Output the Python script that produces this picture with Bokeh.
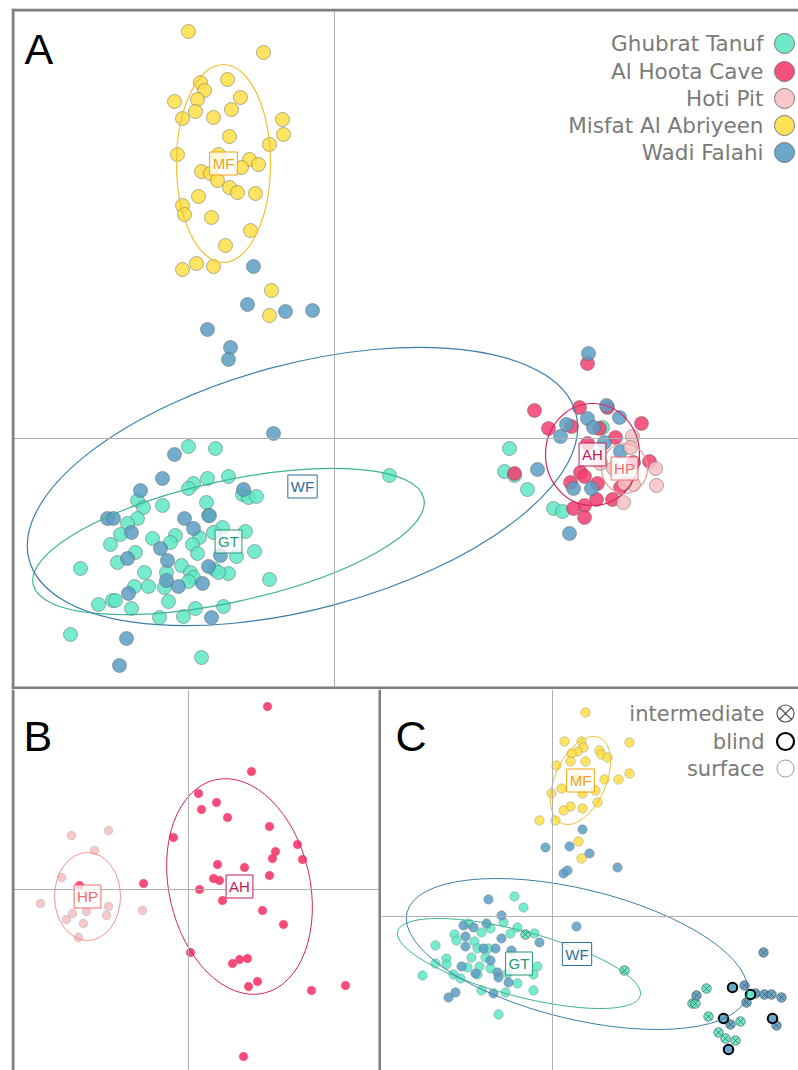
from bokeh.plotting import figure
from bokeh.models import Span, Label, Range1d
from bokeh.layouts import column, row
from bokeh.embed import file_html
from bokeh.resources import INLINE

# ---------------- data ----------------
CODES = ["GT", "AH", "HP", "MF", "WF"]
NAMES = ["Ghubrat Tanuf", "Al Hoota Cave", "Hoti Pit", "Misfat Al Abriyeen", "Wadi Falahi"]

# Panel A (all populations)
A_MF_x = [-1.46, -0.71, -1.34, -1.30, -1.07, -1.60, -1.37, -0.94, -1.39, -1.52, -1.21, -1.03, -0.52, -0.51, -1.05,
          -0.65, -1.57, -1.16, -0.85, -0.76, -0.93, -1.33, -1.24, -1.17, -1.05, -0.97, -0.79, -1.36, -1.52, -1.50,
          -1.23, -0.84, -1.09, -1.52, -1.38, -1.21, -0.63, -0.65]
A_MF_y = [4.07, 3.86, 3.56, 3.48, 3.59, 3.37, 3.39, 3.41, 3.27, 3.20, 3.21, 3.29, 3.19, 3.04, 3.02,
          2.94, 2.84, 2.84, 2.79, 2.74, 2.71, 2.67, 2.65, 2.58, 2.51, 2.46, 2.45, 2.42, 2.33, 2.24,
          2.21, 2.08, 1.93, 1.69, 1.75, 1.72, 1.48, 1.23]
A_WF_x = [-0.81, -0.87, -0.49, -0.22, -1.27, -1.04, -1.06, -0.61, -1.60, -1.72, -1.94, -0.91, -2.27, -2.21, -1.50,
          -1.25, -1.41, -2.03, -1.74, -1.67, -1.14, -2.07, -1.26, -1.68, -1.56, -1.32, -2.06, -1.23, -2.08, -2.15,
          2.54, 2.72, 2.85, 2.53, 2.32, 2.59, 2.26, 2.70, 2.86, 2.03, 2.39, 2.57, 2.35]
A_WF_y = [1.72, 1.34, 1.27, 1.28, 1.09, 0.91, 0.79, 0.05, -0.16, -0.40, -0.52, -0.51, -0.80, -0.80, -0.80,
          -0.77, -0.90, -0.94, -1.10, -1.22, -1.17, -1.20, -1.28, -1.42, -1.48, -1.45, -1.55, -1.79, -2.00, -2.27,
          0.85, 0.33, 0.21, 0.20, 0.14, 0.11, 0.02, -0.04, -0.13, -0.31, -0.50, -0.50, -0.95]
A_AH_x = [2.53, 2.00, 2.45, 2.73, 3.07, 2.14, 2.37, 2.65, 2.81, 2.53, 2.99, 3.15, 1.80, 2.46, 2.50,
          2.36, 2.63, 2.62, 2.78, 2.50, 2.39, 2.50, 2.86]
A_AH_y = [0.75, 0.28, 0.31, 0.31, 0.15, 0.10, 0.12, 0.10, 0.01, -0.05, -0.24, -0.23, -0.35, -0.34, -0.38,
          -0.44, -0.45, -0.61, -0.61, -0.67, -0.70, -0.79, -0.49]
A_HP_x = [2.98, 2.96, 3.21, 3.22, 2.89, 2.99, 2.90, 2.66, 2.79]
A_HP_y = [0.02, -0.09, -0.30, -0.47, -0.64, -0.46, -0.45, -0.25, -0.30]
A_GT_x = [-1.46, -1.19, -1.06, -1.27, -1.41, -1.46, -0.92, -0.86, -0.78, -1.97, -1.72, -1.28, -1.91, -1.97, -2.07,
          -1.26, -1.12, -0.89, -1.21, -1.35, -1.59, -1.82, -2.14, -2.24, -1.64, -1.42, -1.37, -1.99, -2.17, -2.54,
          -1.53, -0.98, -0.80, -1.44, -1.20, -1.06, -1.16, -1.90, -1.68, -1.41, -0.65, -1.46, -1.86, -2.00, -1.70,
          -1.66, -2.36, -2.22, -2.19, -2.03, -1.75, -1.51, -1.39, -1.11, -2.64, -1.33, 0.55,
          1.75, 1.70, 1.80, 1.93, 2.19, 2.28, 2.68]
A_GT_y = [-0.08, -0.10, -0.38, -0.40, -0.45, -0.50, -0.56, -0.59, -0.58, -0.62, -0.67, -0.64, -0.69, -0.80, -0.85,
          -0.77, -0.89, -0.93, -0.94, -0.99, -0.97, -1.00, -0.96, -1.06, -1.04, -1.06, -1.15, -1.14, -1.24, -1.30,
          -1.27, -1.18, -1.13, -1.34, -1.31, -1.35, -1.34, -1.34, -1.34, -1.39, -1.41, -1.43, -1.48, -1.48, -1.49,
          -1.63, -1.66, -1.62, -1.62, -1.70, -1.79, -1.78, -1.70, -1.68, -1.96, -2.19, -0.37,
          -0.10, -0.33, -0.37, -0.51, -0.70, -0.73, 0.11]

# confidence ellipses: centre x, centre y, width, height, angle (deg)
A_ELL = {
    "MF": (-1.11, 2.75, 0.94, 1.98, 0.0),
    "GT": (-1.06, -1.03, 4.00, 1.21, 12.4),
    "WF": (-0.32, -0.48, 5.66, 2.45, 15.0),
    "AH": (2.58, -0.16, 0.94, 1.02, 0.0),
    "HP": (2.90, -0.30, 0.46, 0.50, 0.0),
}

# Panel B (Al Hoota Cave vs Hoti Pit)
B_AH_x = [0.79, 0.63, 0.10, 0.28, 0.13, 0.39, 0.81, -0.15, 1.09, 0.87, 0.84, 1.14, 0.29, 0.56, 0.81, 0.25,
          0.31, -0.45, -1.09, 0.11, 0.34, 0.74, 0.95, 0.02, 0.44, 0.51, 0.59, 0.69, 0.60, 1.23, 1.57, 0.55]
B_AH_y = [1.83, 1.18, 0.96, 0.87, 0.80, 0.72, 0.63, 0.52, 0.45, 0.38, 0.31, 0.30, 0.25, 0.22, 0.14, 0.11,
          0.09, 0.06, 0.04, 0.00, -0.11, -0.21, -0.35, -0.63, -0.74, -0.70, -0.69, -0.92, -0.97, -1.01, -0.96, -1.67]
B_HP_x = [-1.17, -0.80, -0.94, -1.27, -1.48, -1.01, -1.16, -1.22, -1.02, -0.80, -0.82, -1.05, -1.10, -0.46]
B_HP_y = [0.54, 0.59, 0.39, 0.12, -0.14, -0.04, -0.24, -0.30, -0.22, -0.17, -0.26, -0.34, -0.48, -0.21]
B_ELL = {
    "AH": (0.51, 0.03, 1.41, 2.19, 12.8),
    "HP": (-1.01, -0.07, 0.66, 0.88, 0.0),
}

# Panel C (Ghubrat Tanuf, Misfat Al Abriyeen, Wadi Falahi) by eye type
C_MF_x = [0.33, 0.12, 0.29, 0.77, 0.31, 0.25, 0.19, 0.47, 0.49, 0.55, 0.18, 0.33, 0.04, 0.52, 0.66, 0.77, 0.25,
          0.09, -0.01, 0.30, 0.43, 0.45, 0.18, 0.11, 0.30, -0.13, 0.03, 0.26, 0.29]
C_MF_y = [2.04, 1.75, 1.75, 1.74, 1.69, 1.65, 1.63, 1.66, 1.62, 1.59, 1.55, 1.55, 1.51, 1.37, 1.37, 1.43, 1.39,
          1.28, 1.23, 1.23, 1.26, 1.14, 1.10, 1.06, 1.08, 0.96, 0.96, 0.75, 0.58]
C_WF_x = [0.30, -0.07, 0.17, 0.37, 0.65, 0.11, 0.15, 0.24, -0.64, -0.51, -0.66, -0.89, -0.79, -0.87, -0.51, -0.13,
          -0.87, -0.69, -0.57, -0.41, -0.91, -0.77, -0.55, -0.54, -0.44, -0.62, -0.59, -0.97, -1.04]
C_WF_y = [0.87, 0.69, 0.70, 0.63, 0.49, 0.43, 0.46, -0.10, 0.17, 0.01, -0.07, -0.09, -0.11, -0.20, -0.22, -0.26,
          -0.30, -0.32, -0.32, -0.34, -0.50, -0.57, -0.56, -0.61, -0.66, -0.44, -0.77, -0.76, -0.81]
C_GT_x = [-0.38, -0.29, -0.49, -0.84, -0.62, -0.35, -0.18, -0.98, -0.71, -0.96, -0.78, -1.17, -0.75, -0.64, -0.42,
          -1.06, -0.81, -1.17, -1.06, -0.67, -0.85, -0.73, -0.15, -0.62, -1.30, -0.99, -0.92, -0.75, -0.19, -0.45,
          -0.35, -0.71, -0.47, -0.19, -0.54]
C_GT_y = [0.20, 0.09, -0.06, -0.07, -0.12, -0.11, -0.17, -0.18, -0.16, -0.24, -0.25, -0.29, -0.32, -0.32, -0.17,
          -0.42, -0.41, -0.47, -0.48, -0.41, -0.51, -0.50, -0.50, -0.52, -0.59, -0.58, -0.62, -0.58, -0.58, -0.57,
          -0.67, -0.74, -0.76, -0.74, -0.98]
C_GT_int_x = [-0.27, 0.72, 1.54, 1.40, 1.43, 1.56, 1.88, 1.66, 1.73, 1.83]
C_GT_int_y = [-0.18, -0.54, -0.72, -0.87, -0.87, -1.00, -1.05, -1.16, -1.22, -1.24]
C_GT_bl_x = [1.98]
C_GT_bl_y = [-0.78]
C_WF_int_x = [2.11, 1.92, 2.03, 2.12, 2.19, 2.29, 1.94, 1.44, 1.78, 2.24]
C_WF_int_y = [-0.36, -0.69, -0.77, -0.78, -0.78, -0.81, -0.86, -0.79, -1.08, -1.09]
C_WF_bl_x = [1.80, 1.71, 2.20, 1.76]
C_WF_bl_y = [-0.71, -1.02, -1.02, -1.33]
C_ELL = {
    "MF": (0.28, 1.36, 0.51, 0.94, -24.0),
    "GT": (-0.335, -0.47, 2.51, 0.65, -14.9),
    "WF": (0.245, -0.375, 3.50, 1.30, -13.7),
}
EYE_TYPES = ["intermediate", "blind", "surface"]

# ---------------- styles ----------------
FILL = {"GT": "#5EE8C5", "AH": "#F33D6E", "HP": "#F8C1C1", "MF": "#FFDF45", "WF": "#5B9DC3"}
ELLC = {"GT": "#3DB58F", "AH": "#D6245E", "HP": "#F29494", "MF": "#EFC233", "WF": "#3B7FA8"}
LBLC = {"GT": "#239A76", "AH": "#C2185B", "HP": "#F26B6B", "MF": "#F0A30A", "WF": "#2F6F9A"}
BORDER = "#7f7f7f"
ZERO = "#b0b0b0"
LEGTXT = "#7a7a7a"
PX = 0.015  # ~1.5 px in data units (100 px per unit)


def panel(w, h, xr, yr, left=0, top=0, sides=()):
    p = figure(width=w, height=h, x_range=Range1d(*xr), y_range=Range1d(*yr),
               output_backend="svg", toolbar_location=None,
               x_axis_location=None, y_axis_location=None, min_border=0)
    p.min_border_left = left
    p.min_border_top = top
    p.grid.visible = False
    p.outline_line_alpha = 0
    p.background_fill_color = "white"
    p.border_fill_color = "white"
    p.add_layout(Span(location=0, dimension="width", line_color=ZERO, line_width=1))
    p.add_layout(Span(location=0, dimension="height", line_color=ZERO, line_width=1))
    edge = {"left": (xr[0] + PX, "height"), "right": (xr[1] - PX, "height"),
            "top": (yr[1] - PX, "width"), "bottom": (yr[0] + PX, "width")}
    for s in sides:
        loc, dim = edge[s]
        p.add_layout(Span(location=loc, dimension=dim, line_color=BORDER, line_width=3))
    return p


def ellipses(p, ell, lw=1.2):
    for code, (cx, cy, ew, eh, ang) in ell.items():
        p.ellipse(x=[cx], y=[cy], width=[ew], height=[eh], angle=ang, angle_units="deg",
                  fill_alpha=0, line_color=ELLC[code], line_width=lw)


def tags(p, ell, size):
    for code, (cx, cy, ew, eh, ang) in ell.items():
        p.add_layout(Label(x=cx, y=cy, text=code, text_align="center", text_baseline="middle",
                           text_font="Liberation Sans", text_font_size=size, text_color=LBLC[code],
                           background_fill_color="white", background_fill_alpha=0.75,
                           border_line_color=LBLC[code], border_line_width=1, padding=3))


def letter(p, x, y, t):
    p.add_layout(Label(x=x, y=y, text=t, text_font="Liberation Sans", text_font_size="43px",
                       text_color="black", text_baseline="alphabetic", text_align="left"))


# ---------------- panel A ----------------
pA = panel(798, 689, (-3.23, 4.64), (-2.51, 4.30), left=11, top=8, sides=("left", "top", "bottom"))
A_PTS = {"GT": (A_GT_x, A_GT_y), "AH": (A_AH_x, A_AH_y), "HP": (A_HP_x, A_HP_y),
         "MF": (A_MF_x, A_MF_y), "WF": (A_WF_x, A_WF_y)}
for code in ["GT", "AH", "WF", "HP", "MF"]:
    xs, ys = A_PTS[code]
    pA.scatter(x=xs, y=ys, size=14, marker="circle", fill_color=FILL[code], fill_alpha=0.85,
               line_color="#555555", line_alpha=0.45, line_width=1)
ellipses(pA, A_ELL)
tags(pA, A_ELL, "15px")
letter(pA, -3.10, 3.90, "A")
leg_y = [3.95, 3.67, 3.40, 3.13, 2.86]
for code, name, ly in zip(CODES, NAMES, leg_y):
    pA.scatter(x=[4.50], y=[ly], size=20, marker="circle", fill_color=FILL[code], fill_alpha=0.9,
               line_color="#777777", line_width=1)
    pA.add_layout(Label(x=4.29, y=ly, text=name, text_align="right", text_baseline="middle",
                        text_font="DejaVu Sans", text_font_size="21.5px", text_color=LEGTXT))

# ---------------- panel B ----------------
pB = panel(381, 381, (-1.77, 1.93), (-1.81, 2.00), left=11, top=0, sides=("left", "right"))
pB.scatter(x=B_HP_x, y=B_HP_y, size=8.5, marker="circle", fill_color=FILL["HP"], fill_alpha=0.9,
           line_color="#aaaaaa", line_alpha=0.6, line_width=0.8)
pB.scatter(x=B_AH_x, y=B_AH_y, size=8.5, marker="circle", fill_color=FILL["AH"], fill_alpha=0.92,
           line_color=FILL["AH"], line_alpha=0.6, line_width=0.8)
ellipses(pB, B_ELL, lw=1)
tags(pB, B_ELL, "15px")
letter(pB, -1.65, 1.54, "B")

# ---------------- panel C ----------------
pC = panel(417, 381, (-1.71, 2.46), (-1.54, 2.27))
for xs, ys, code in [(C_GT_x, C_GT_y, "GT"), (C_WF_x, C_WF_y, "WF"), (C_MF_x, C_MF_y, "MF")]:
    pC.scatter(x=xs, y=ys, size=9.5, marker="circle", fill_color=FILL[code], fill_alpha=0.85,
               line_color="#555555", line_alpha=0.35, line_width=0.8)
for xs, ys, code in [(C_GT_int_x, C_GT_int_y, "GT"), (C_WF_int_x, C_WF_int_y, "WF")]:
    pC.scatter(x=xs, y=ys, size=9.5, marker="circle_x", fill_color=FILL[code], fill_alpha=0.9,
               line_color="#3a3a3a", line_alpha=0.7, line_width=0.8)
for xs, ys, code in [(C_GT_bl_x, C_GT_bl_y, "GT"), (C_WF_bl_x, C_WF_bl_y, "WF")]:
    pC.scatter(x=xs, y=ys, size=9.5, marker="circle", fill_color=FILL[code], fill_alpha=0.9,
               line_color="black", line_width=2)
ellipses(pC, C_ELL, lw=1)
tags(pC, C_ELL, "15px")
letter(pC, -1.57, 1.81, "C")
legC_y = [2.03, 1.75, 1.48]
legC_style = [("circle_x", "white", "#555555", 1.2), ("circle", "white", "black", 2.2),
              ("circle", "white", "#999999", 1.0)]
for name, ly, (mk, fc, lc, lw) in zip(EYE_TYPES, legC_y, legC_style):
    pC.scatter(x=[2.33], y=[ly], size=17, marker=mk, fill_color=fc, line_color=lc, line_width=lw)
    pC.add_layout(Label(x=2.12, y=ly, text=name, text_align="right", text_baseline="middle",
                        text_font="DejaVu Sans", text_font_size="21px", text_color=LEGTXT))

layout = column(pA, row(pB, pC, spacing=0), spacing=0)
open("out.html", "w").write(file_html(layout, INLINE))
